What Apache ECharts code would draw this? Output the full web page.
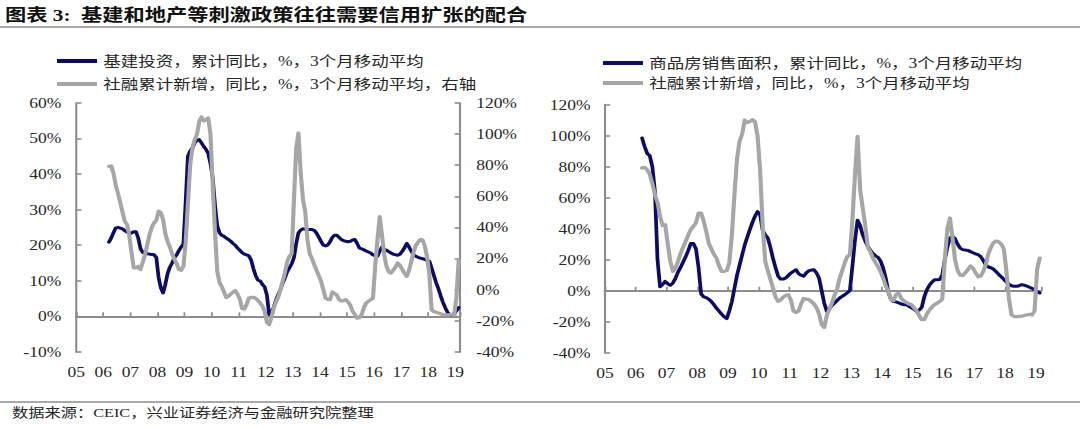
<!DOCTYPE html>
<html>
<head>
<meta charset="utf-8">
<script src="https://cdn.jsdelivr.net/npm/echarts@6/dist/echarts.min.js"></script>
<style>
html,body{margin:0;padding:0;background:#ffffff;overflow:hidden;}
#wrap{width:1080px;height:428px;overflow:hidden;position:relative;background:#fff;}
#chart{width:864px;height:428px;transform:scaleX(1.25);transform-origin:0 0;}
</style>
</head>
<body>
<div id="wrap"><div id="chart"></div></div>
<script>
// ---------------- DATA (monthly, Mar 2006 .. Feb 2019) ----------------
const startYear = 2006;
const startMonth = 3;

const yearTicks = ['05','06','07','08','09','10','11','12','13','14','15','16','17','18','19'];

const titleText = '图表 3:  基建和地产等刺激政策往往需要信用扩张的配合';
const sourceText = '数据来源：CEIC，兴业证券经济与金融研究院整理';

const nameInfra = '基建投资，累计同比，%，3个月移动平均';
const nameTsfLeft = '社融累计新增，同比，%，3个月移动平均，右轴';
const nameSales = '商品房销售面积，累计同比，%，3个月移动平均';
const nameTsfRight = '社融累计新增，同比，%，3个月移动平均';

// left chart, left axis
const infraYoY = [
  20.9, 22, 23.5, 24.8, 25, 24.8, 24.6, 24.1, 23.7, 23.5, 23.4, 23.8,
  23.8, 22, 19, 18, 17.8, 17.6, 17.5, 17.4, 17.3, 16.6, 11, 8,
  6.6, 9, 12, 13.8, 15, 16.5, 17.3, 18.5, 19.5, 20.3, 32, 45,
  46.5, 47.3, 48.8, 49.5, 49.7, 48.8, 47.8, 47, 45.8, 43, 38.9, 31.4,
  25.5, 23.5, 22.8, 22.5, 22, 21.6, 21.1, 20.5, 20, 19.2, 18.6, 17.9,
  17.5, 17.3, 17, 15.9, 13.5, 11.5, 10.2, 10, 9, 8.3, 6, 0.5,
  1.2, 2.5, 4.5, 6.1, 7.5, 9.3, 10.8, 12.5, 13.6, 14.8, 16.5, 20.5,
  23.5, 24.3, 24.6, 24.5, 24.4, 24.4, 24.4, 24.2, 23.4, 22.3, 21.1, 20,
  19.8, 20.1, 21, 22.2, 22.8, 22.8, 22.2, 21.6, 21.3, 21.1, 21, 21.1,
  21.5, 21.6, 20.5, 19.2, 19, 18.7, 18.4, 18.1, 17.8, 17.3, 17, 16.9,
  18.3, 19.5, 18.8, 18.6, 18.2, 17.8, 17.5, 17.3, 17.2, 17.5, 18.3, 19.3,
  20.5, 19.5, 18.3, 17.3, 16.9, 16.6, 16.4, 16.2, 16, 15.7, 15.5, 13.6,
  11.5, 9.5, 7.8, 5.8, 4, 2.5, 1.2, 0.5, 0.4, 0.8, 1.6, 2.5
];

// left chart, right axis
const tsfYoYLeft = [
  79.3, 79.5, 75, 67.4, 62, 56, 50, 44, 42, 35, 24, 14,
  14, 15, 13, 17.5, 22.5, 29, 35.4, 40, 43, 44.5, 50.4, 49.5,
  45, 36, 31, 27.5, 23, 19.5, 17, 13, 12.5, 15, 30, 55,
  80, 91, 96.4, 99.6, 108, 111, 108.5, 109.3, 110.4, 100, 67.5, 37.5,
  12, 4.5, 2, -1.5, -5, -4.3, -2.8, -1.5, -0.6, -3, -6, -12,
  -12.5, -9.6, -5.4, -5, -4.9, -5.5, -7, -8.6, -10.5, -13.9, -21, -22.5,
  -18, -12, -8, -5, 0, 5.4, 11, 18, 21.5, 23, 58, 91,
  100.7, 75, 58, 50, 32, 23, 20, 16, 12.5, 9, 5.4, 0,
  -5.4, -6.2, -6.4, -1.5, -2.5, -3.5, -6.4, -7.2, -7, -6.4, -8, -10,
  -13.9, -16, -18.3, -18, -16.1, -11.5, -8.5, -7.5, -6.4, -5.6, 15, 32,
  47, 35, 22.5, 15, 11.5, 10.7, 12.5, 14.5, 17.2, 15.5, 13, 10.5,
  8.6, 12.5, 18, 24, 28.5, 30.5, 32.2, 32, 28, 21, 10, -13,
  -14, -14.5, -15, -15.5, -16, -16.2, -16.2, -16.1, -16.1, -16.3, -5, 19
];

// right chart
const salesAreaYoY = [
  98.5, 93, 88.5, 87, 80, 64, 20, 2.5, 4, 6, 4.5, 3.5,
  5, 8, 12, 15, 18.5, 22, 26, 30.5, 30.5, 27, 15, -2,
  -4, -4.5, -5.5, -7, -9, -11.3, -13.2, -15.1, -16.8, -18, -13, -7,
  1.5, 10, 16.5, 23, 29.5, 34.5, 39.4, 44, 48, 51, 49, 39,
  36, 34, 28, 21, 15, 9.5, 7.5, 7.5, 8.2, 9.8, 11.4, 12.5,
  13.5, 11, 10, 9.3, 11.5, 12.9, 13.3, 13.5, 11.4, 8, 0, -8,
  -13.3, -11.6, -9.5, -8, -6.3, -4.7, -3.6, -2.6, -1.3, 0.2, 16, 33,
  45.5, 42, 36, 32, 28.5, 26, 24, 22.5, 21.5, 19, 14.5, 8,
  -1, -5.5, -7, -7.2, -7.8, -8.6, -9, -9, -10, -11, -12, -13.3,
  -12.5, -10.8, -4, 0.5, 3.5, 5.5, 7, 7.1, 7.2, 10, 20, 28,
  34, 35.1, 33.5, 30, 27.5, 26.5, 26.2, 26, 25.2, 24.5, 23.8, 23.2,
  22, 19.5, 16.5, 15.3, 14.8, 13.8, 12.3, 10.5, 9, 7.3, 5.5, 4.3,
  3.2, 2.8, 2.8, 3.2, 3.9, 3.5, 3, 2.2, 1.5, 0.5, -0.5, -1.5
];

const tsfYoYRight = [
  79.2, 79.6, 78, 75, 69, 62, 57, 48, 42, 42.6, 30, 19,
  12.5, 14.6, 19, 24, 28, 32, 36, 39.5, 41.5, 43.7, 50, 50.1,
  45, 38.3, 30.5, 27, 23.5, 21, 16, 12.5, 12.5, 13, 18, 36,
  62, 85, 96.5, 101, 110, 108.5, 109.2, 110.3, 109, 100, 78, 42,
  19, 13, 7.5, 2, -4, -6.9, -6, -4.2, -3, -2.6, -6, -13,
  -14, -13, -8.5, -5, -5.5, -5.8, -7, -8.5, -11, -15, -21.9, -23.7,
  -16, -12, -8, -3, 1, 8, 13, 18, 22, 23.2, 46, 75,
  99.6, 65, 53.5, 42, 28, 25, 21, 18, 15.5, 12, 8, 3,
  -0.4, -5.5, -6.5, -2.5, -1.5, -5, -6.5, -7.5, -8.5, -9, -11, -13,
  -16, -18.7, -18.7, -15, -12.5, -10.5, -9, -8, -7, -5.5, 20, 40,
  46.9, 34, 20, 13, 10, 9.8, 11.5, 13.5, 16, 14.5, 11.5, 9,
  9.5, 12.5, 17, 24, 28, 31, 32, 31.5, 30, 27, 13, -5,
  -15.5, -16.6, -16.8, -16.6, -16.4, -16, -15.6, -15.3, -15.7, -13, 14, 21
];

// ---------------- RENDER ----------------
const S = 1.25; // horizontal stretch of the original picture
const FONT = "'Liberation Serif', 'Times New Roman', 'Noto Sans CJK SC', serif";
const TXT = '#262626';
const AX = '#8c8c8c';
const BLUE = '#0b0b6b';
const GRAY = '#a6a6a6';
const X_MIN = 2005, X_MAX = 2019.17;

const toPts = arr => arr.map((v, i) => [startYear + (startMonth - 0.5 + i) / 12, v]);
const yearFmt = v => (Number.isInteger(v) && yearTicks[v - 2005] !== undefined) ? yearTicks[v - 2005] : '';

function labelAxis(grid, margin) {
  return {
    gridIndex: grid, type: 'value', min: X_MIN, max: X_MAX, interval: 1, position: 'bottom',
    axisLine: { show: false, onZero: false }, axisTick: { show: false }, splitLine: { show: false },
    axisLabel: { margin: margin, fontSize: 14, color: TXT, fontFamily: FONT, formatter: yearFmt }
  };
}
function zeroAxis(grid, yIdx) {
  return {
    gridIndex: grid, type: 'value', min: X_MIN, max: X_MAX, interval: 1, position: 'bottom',
    axisLine: { show: true, onZero: true, onZeroAxisIndex: yIdx, lineStyle: { color: AX, width: 2 } },
    axisTick: { show: true, inside: true, length: 4, lineStyle: { color: AX, width: 1.4 } },
    axisLabel: { show: false }, splitLine: { show: false }
  };
}
function yAx(grid, pos, min, max, interval, margin) {
  return {
    gridIndex: grid, type: 'value', position: pos, min: min, max: max, interval: interval,
    axisLine: { show: true, onZero: false, lineStyle: { color: AX, width: 1.7 } },
    axisTick: { show: true, inside: true, length: 4.2, lineStyle: { color: AX, width: 1.6 } },
    splitLine: { show: false },
    axisLabel: { formatter: '{value}%', margin: margin, fontSize: 14, color: TXT, fontFamily: FONT }
  };
}
function lineSeries(name, data, color, width, xi, yi, z) {
  return {
    name: name, type: 'line', xAxisIndex: xi, yAxisIndex: yi, data: toPts(data),
    showSymbol: false, symbol: 'none', smooth: false, color: color, z: z,
    lineStyle: { color: color, width: width, join: 'round', cap: 'round' },
    emphasis: { disabled: true }, animation: false
  };
}
const legendText = { fontSize: 14, lineHeight: 16, color: TXT, fontFamily: FONT };

const chart = echarts.init(document.getElementById('chart'), null, { renderer: 'svg' });
chart.setOption({
  backgroundColor: '#ffffff',
  animation: false,
  title: [
    { text: titleText, left: 5 / S, top: 6, padding: 0,
      textStyle: { fontSize: 17, fontWeight: 'bold', color: '#111111', fontFamily: FONT, lineHeight: 18 } },
    { text: sourceText, left: 12 / S, top: 405, padding: 0,
      textStyle: { fontSize: 13, fontWeight: 'normal', color: TXT, fontFamily: FONT, lineHeight: 16 } }
  ],
  graphic: [
    { type: 'line', silent: true, shape: { x1: 0, y1: 27, x2: 864, y2: 27 }, style: { stroke: '#8c8c8c', lineWidth: 1.6 } },
    { type: 'line', silent: true, shape: { x1: 0, y1: 402, x2: 864, y2: 402 }, style: { stroke: '#8c8c8c', lineWidth: 1.6 } }
  ],
  legend: [
    { data: [nameInfra, nameTsfLeft], orient: 'vertical', left: 57 / S, top: 53, padding: 0,
      itemWidth: 40 / S, itemHeight: 4, itemGap: 7, icon: 'rect', selectedMode: false,
      itemStyle: { borderWidth: 0 }, textStyle: legendText },
    { data: [nameSales, nameTsfRight], orient: 'vertical', left: 603 / S, top: 55, padding: 0,
      itemWidth: 40 / S, itemHeight: 4, itemGap: 4, icon: 'rect', selectedMode: false,
      itemStyle: { borderWidth: 0 }, textStyle: legendText }
  ],
  grid: [
    { left: 76.2 / S, top: 103, width: 383.7 / S, height: 248.9, containLabel: false, outerBoundsMode: 'none' },
    { left: 604.9 / S, top: 104.7, width: 436.2 / S, height: 248, containLabel: false, outerBoundsMode: 'none' }
  ],
  xAxis: [ labelAxis(0, 13), zeroAxis(0, 0), labelAxis(1, 13.5), zeroAxis(1, 2) ],
  yAxis: [
    yAx(0, 'left', -10, 60, 10, 12),
    yAx(0, 'right', -40, 120, 20, 13),
    yAx(1, 'left', -40, 120, 20, 11.5)
  ],
  series: [
    lineSeries(nameInfra, infraYoY, BLUE, 3, 0, 0, 2),
    lineSeries(nameTsfLeft, tsfYoYLeft, GRAY, 3.3, 0, 1, 3),
    lineSeries(nameSales, salesAreaYoY, BLUE, 3, 2, 2, 2),
    lineSeries(nameTsfRight, tsfYoYRight, GRAY, 3.3, 2, 2, 3)
  ]
});
</script>
</body>
</html>
